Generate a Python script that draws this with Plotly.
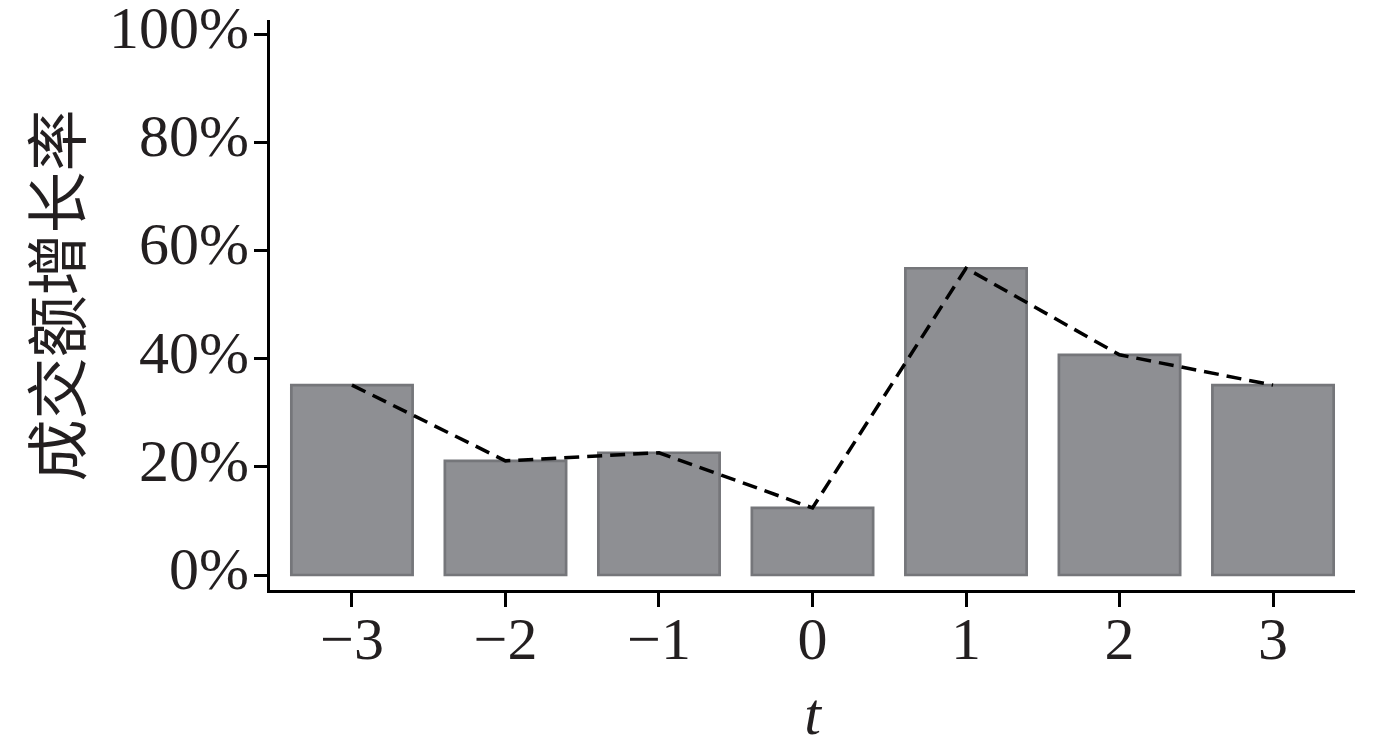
import plotly.graph_objects as go

# event window t and turnover growth rate
t_vals = [-3, -2, -1, 0, 1, 2, 3]
t_labels = ["\u22123", "\u22122", "\u22121", "0", "1", "2", "3"]
growth = [0.351, 0.211, 0.226, 0.124, 0.567, 0.407, 0.351]

y_ticks = [0, 0.2, 0.4, 0.6, 0.8, 1.0]
y_labels = ["0%", "20%", "40%", "60%", "80%", "100%"]

serif = "Liberation Serif, Times New Roman, serif"

fig = go.Figure()

# bars
fig.add_trace(go.Bar(
    x=t_vals,
    y=growth,
    width=0.79,
    marker=dict(color="#8e8f93", line=dict(color="#75767a", width=2.7)),
    showlegend=False
))

# dashed line through bar tops
fig.add_trace(go.Scatter(
    x=t_vals,
    y=growth,
    mode="lines",
    line=dict(color="black", width=3.5, dash="15px,8px"),
    showlegend=False
))

# y title as a rotated annotation so it can sit near the left edge
fig.add_annotation(
    text="成交额增长率",
    textangle=-90,
    showarrow=False,
    xref="paper",
    yref="paper",
    x=-0.199,
    y=0.517,
    xanchor="center",
    yanchor="middle",
    font=dict(family="Noto Sans CJK SC", size=62, color="#231f20"),
)

# page body adds 8px margin, so figure is a bit smaller than the window
fig.update_layout(
    width=1362,
    height=739,
    margin=dict(l=262, r=15, t=12, b=157),
    plot_bgcolor="white",
    paper_bgcolor="white",
    font=dict(family=serif, size=60, color="#231f20"),
    xaxis=dict(
        range=[-3.534, 3.534],
        tickvals=t_vals,
        ticktext=t_labels,
        ticks="outside",
        ticklen=14,
        tickwidth=3,
        tickcolor="black",
        ticklabelstandoff=-20,
        showline=True,
        linecolor="black",
        linewidth=3,
        showgrid=False,
        zeroline=False,
        automargin=False,
        title=dict(text="<i>t</i>", font=dict(family=serif, size=60), standoff=23),
    ),
    yaxis=dict(
        range=[-0.0277, 1.0259],
        tickvals=y_ticks,
        ticktext=y_labels,
        ticks="outside",
        ticklen=13,
        tickwidth=3,
        tickcolor="black",
        ticklabelstandoff=-7,
        ticklabelshift=-7,
        ticklabeloverflow="allow",
        showline=True,
        linecolor="black",
        linewidth=3,
        showgrid=False,
        zeroline=False,
        automargin=False,
    ),
)

fig.write_html("out.html")
